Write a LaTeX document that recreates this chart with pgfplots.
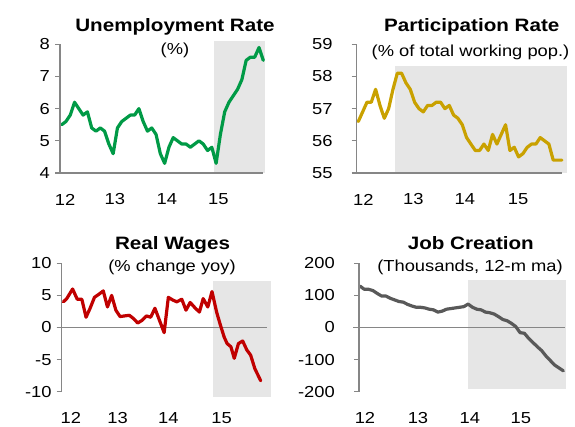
\documentclass[border=0pt]{standalone}
\usepackage{fontspec}
\setmainfont{Liberation Sans}[FakeStretch=1.15]
\usepackage{pgfplots}
\pgfplotsset{compat=1.18}
\definecolor{ugreen}{HTML}{009A46}
\definecolor{ugold}{HTML}{C9A100}
\definecolor{ured}{HTML}{C00000}
\definecolor{udark}{HTML}{595959}
\definecolor{shade}{HTML}{E6E6E6}
\definecolor{axisgray}{HTML}{868686}
\pgfplotsset{
  panel/.style={
    scale only axis, clip=false, axis on top,
    axis y line=left, axis x line=bottom,
    axis line style={draw=axisgray, line width=1.5bp, -},
    ytick style={draw=axisgray, line width=1.3bp},
    xtick style={draw=none},
    tick align=outside, major tick length=5bp,
    /pgf/number format/assume math mode=true,
    ticklabel style={font=\fontsize{16}{16}\selectfont, text=black},
    yticklabel style={anchor=east, inner sep=0pt, xshift=-5bp},
    xticklabel style={anchor=center, inner sep=0pt, yshift=-21.5bp},
    xticklabels={12,13,14,15},
  },
  dataline/.style={line width=3.2bp, line join=round, line cap=round},
}
\begin{document}
\begin{tikzpicture}[x=1bp,y=1bp]
\useasboundingbox (0,0) rectangle (575,426);

% ---------------- Unemployment Rate
\begin{axis}[panel, at={(60bp,253bp)}, anchor=south west,
  width=203.3bp, height=128.7bp,
  xmin=-0.39, xmax=47, ymin=4, ymax=8, ytick={4,5,6,7,8},
  xtick={0.8,12.4,24.5,36.5}]
\addplot[fill=shade, draw=none] coordinates {(35.5,4) (47.5,4) (47.5,8.11) (35.5,8.11)} -- cycle;
\addplot[dataline, color=ugreen] coordinates {
(0,5.5)(1,5.6)(2,5.8)(3,6.2)(4,6.0)(5,5.8)(6,5.9)(7,5.4)(8,5.3)(9,5.4)(10,5.3)(11,4.9)
(12,4.6)(13,5.4)(14,5.6)(15,5.7)(16,5.8)(17,5.8)(18,6.0)(19,5.6)(20,5.3)(21,5.4)(22,5.2)(23,4.6)
(24,4.3)(25,4.8)(26,5.1)(27,5.0)(28,4.9)(29,4.9)(30,4.8)(31,4.9)(32,5.0)(33,4.9)(34,4.7)(35,4.8)
(36,4.3)(37,5.2)(38,5.9)(39,6.2)(40,6.4)(41,6.6)(42,6.9)(43,7.5)(44,7.6)(45,7.6)(46,7.9)(47,7.5)};
\end{axis}

% ---------------- Participation Rate
\begin{axis}[panel, at={(356.7bp,253bp)}, anchor=south west,
  width=205.6bp, height=128.7bp,
  xmin=-0.37, xmax=47.1, ymin=55, ymax=59, ytick={55,56,57,58,59},
  yticklabel style={xshift=-14bp},
  xtick={1.15,12.7,24.6,36.9}]
\addplot[fill=shade, draw=none] coordinates {(8.5,55) (48.1,55) (48.1,58.33) (8.5,58.33)} -- cycle;
\addplot[dataline, color=ugold] coordinates {
(0,56.6)(1,56.9)(2,57.2)(3,57.2)(4,57.6)(5,57.1)(6,56.7)(7,57.0)(8,57.6)(9,58.1)(10,58.1)(11,57.8)
(12,57.6)(13,57.2)(14,57.0)(15,56.9)(16,57.1)(17,57.1)(18,57.2)(19,57.2)(20,57.0)(21,57.1)(22,56.8)(23,56.7)
(24,56.5)(25,56.1)(26,55.9)(27,55.7)(28,55.7)(29,55.9)(30,55.7)(31,56.2)(32,55.9)(33,56.2)(34,56.5)(35,55.7)
(36,55.8)(37,55.5)(38,55.6)(39,55.8)(40,55.9)(41,55.9)(42,56.1)(43,56.0)(44,55.9)(45,55.4)(46,55.4)(47,55.4)};
\end{axis}

% ---------------- Real Wages
\begin{axis}[panel, at={(61.7bp,34.3bp)}, anchor=south west,
  width=199bp, height=128.4bp, x axis line style={draw=none},
  xmin=-0.4, xmax=47, ymin=-10, ymax=10, ytick={-10,-5,0,5,10},
  xtick={1.8,12.9,25,37.7}]
\addplot[fill=shade, draw=none] coordinates {(35.7,-10.8) (49.4,-10.8) (49.4,7.2) (35.7,7.2)} -- cycle;
\draw[axisgray, line width=1.5bp] (axis cs:-1.6,0) -- (axis cs:48.4,0);
\addplot[dataline, color=ured] coordinates {
(0,4.0)(0.8,4.5)(2.2,6.0)(3.3,4.4)(4.4,4.4)(5.4,1.6)(6.3,2.9)(7.4,4.7)(8.5,5.2)(9.5,5.7)(10.5,3.2)(11.5,5.0)
(12.5,2.7)(13.5,1.7)(14.5,1.8)(15.7,1.9)(16.7,1.4)(17.7,0.7)(18.7,1.1)(19.8,1.8)(20.8,1.6)(21.8,3.0)(22.9,1.1)
(24.0,-0.8)(25.0,4.7)(26.0,4.3)(27.0,4.0)(28.2,4.4)(29.2,2.7)(30.2,3.9)(31.3,3.1)(32.4,2.4)(33.3,4.5)(34.4,3.2)
(35.4,5.6)(36.5,2.4)(37.3,0.6)(38.3,-1.5)(39.0,-2.5)(39.9,-3.0)(40.7,-4.8)(41.7,-2.5)(42.7,-2.1)(43.7,-3.5)
(44.6,-4.3)(45.6,-6.4)(47.0,-8.3)};
\end{axis}

% ---------------- Job Creation
\begin{axis}[panel, at={(359bp,34.3bp)}, anchor=south west,
  width=204.3bp, height=128.4bp, x axis line style={draw=none},
  xmin=-0.23, xmax=47, ymin=-200, ymax=200, ytick={-200,-100,0,100,200},
  yticklabel style={xshift=-14bp},
  xtick={1.15,13.4,25.4,37.2}]
\addplot[fill=shade, draw=none] coordinates {(25.0,-193) (47.6,-193) (47.6,148) (25.0,148)} -- cycle;
\draw[axisgray, line width=1.5bp] (axis cs:-1.55,0) -- (axis cs:47.45,0);
\addplot[dataline, color=udark] coordinates {
(0,129)(1,119)(2,119)(3,115)(4,106)(5,98)(6,98)(7,91)(8,86)(9,81)(10,79)(11,72)
(12,67)(13,63)(14,63)(15,61)(16,57)(17,55)(18,48)(19,51)(20,57)(21,59)(22,61)(23,63)
(24,65)(25,73)(26,63)(27,57)(28,55)(29,48)(30,46)(31,42)(32,34)(33,25)(34,21)(35,13)
(36,3)(37,-16)(38,-18)(39,-34)(40,-47)(41,-60)(42,-72)(43,-89)(44,-103)(45,-117)(46,-126)(47,-135)};
\end{axis}

% ---------------- Titles
\node[anchor=base, font=\fontsize{18}{18}\selectfont\bfseries] at (175,394) {Unemployment Rate};
\node[anchor=base, font=\fontsize{16}{16}\selectfont] at (175,372) {(\%)};
\node[anchor=base, font=\fontsize{18}{18}\selectfont\bfseries] at (471.7,394.3) {Participation Rate};
\node[anchor=base, font=\fontsize{16}{16}\selectfont] at (470.5,369.5) {(\% of total working pop.)};
\node[anchor=base, font=\fontsize{18}{18}\selectfont\bfseries] at (172.5,176.7) {Real Wages};
\node[anchor=base, font=\fontsize{16}{16}\selectfont] at (172,154.4) {(\% change yoy)};
\node[anchor=base, font=\fontsize{18}{18}\selectfont\bfseries] at (470.8,176.7) {Job Creation};
\node[anchor=base, font=\fontsize{16}{16}\selectfont] at (470,154.4) {(Thousands, 12-m ma)};
\end{tikzpicture}
\end{document}
